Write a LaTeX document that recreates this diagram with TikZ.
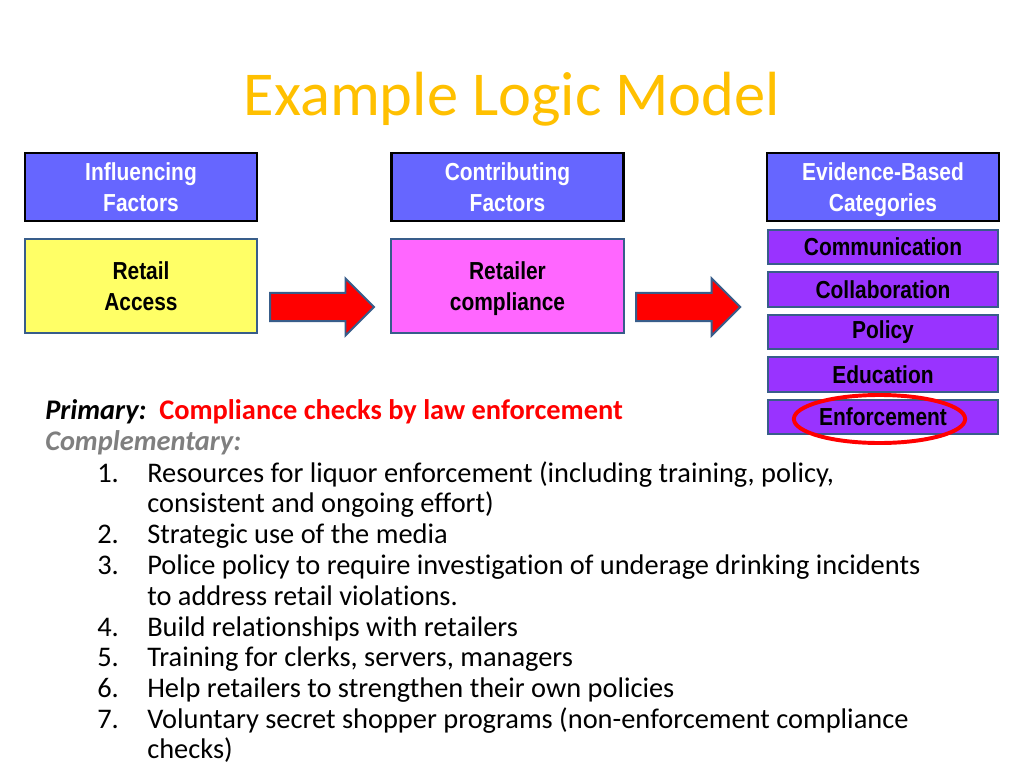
\documentclass[tikz,border=0pt]{standalone}
\usepackage{fontspec}
\setmainfont[Ligatures=NoCommon]{Carlito}
\newfontfamily\boxfont[FakeStretch=0.85]{Liberation Sans}
\usetikzlibrary{calc,shapes.geometric,shapes.arrows}

\definecolor{headblue}{HTML}{6666FF}
\definecolor{accessyellow}{HTML}{FFFF66}
\definecolor{compliancepink}{HTML}{FF66FF}
\definecolor{catpurple}{HTML}{9933FF}
\definecolor{edgeblue}{HTML}{385D8A}
\definecolor{titlegold}{HTML}{FFC000}
\definecolor{notegray}{HTML}{7F7F7F}

\tikzset{
	header/.style={draw=black, line width=1.9pt, fill=headblue, text=white, minimum width=5.8cm, minimum height=1.7cm, align=center, font=\boxfont\bfseries\fontsize{17.5}{22}\selectfont},
	factor/.style={draw=edgeblue, line width=1.4pt, minimum width=5.8cm, minimum height=2.35cm, align=center, font=\boxfont\bfseries\fontsize{17.5}{22}\selectfont},
	category/.style={draw=edgeblue, line width=1.4pt, fill=catpurple, minimum width=5.75cm, minimum height=0.86cm, font=\boxfont\bfseries\fontsize{17.5}{21}\selectfont},
	bigarrow/.style={single arrow, draw=edgeblue, line width=1.4pt, fill=red, inner sep=0.33cm, minimum height=2.6cm, single arrow head extend=0.36cm, anchor=tip},
	item/.style={anchor=base west, inner sep=0pt, font=\fontsize{20.2}{22}\selectfont}
}

\begin{document}
\begin{tikzpicture}[x=0.025cm, y=-0.025cm]
	\fill[white] (0,0) rectangle (1024,768);
	\useasboundingbox (0,0) rectangle (1024,768);

	\node[anchor=base, inner sep=0pt, text=titlegold, font=\fontsize{44.4}{48}\selectfont] (title) at (512,116) {Example Logic Model};

	% three columns
	\node[header] (influencing) at (141,187) {Influencing\\Factors};
	\node[header] (contributing) at (507.5,187) {Contributing\\Factors};
	\node[header] (evidence) at (883,187) {Evidence-Based\\\smash{Categories}};

	\node[factor, fill=accessyellow] (access) at (141,286) {Retail\\Access};
	\node[factor, fill=compliancepink] (compliance) at (507.5,286) {Retailer\\\smash{compliance}};

	\foreach \cat [count=\i] in {Communication, Collaboration, Policy, Education, Enforcement}
		\node[category] (cat\i) at (883,204.5+42.5*\i) {\cat};

	\node[bigarrow] (arrow1) at ($(compliance.west)+(-15,21)$) {};
	\node[bigarrow] (arrow2) at ($(evidence.west |- compliance.west)+(-24,21)$) {};

	\node[ellipse, draw=red, line width=2.8pt, minimum width=4.28cm, minimum height=1.2cm] (circled) at ($(cat5.center)+(-3.5,2)$) {};

	% strategies
	\node[item] (primary) at (45,419) {\textbf{\textit{Primary:}}\hspace{0.45em}\textcolor{red}{\textbf{Compliance checks by law enforcement}}};
	\node[item, text=notegray] (complementary) at (45,450) {\textbf{\textit{Complementary:}}};

	\foreach \n/\y in {1/482, 2/543, 3/574, 4/636, 5/666, 6/697, 7/728}
		\node[item] (num\n) at (97,\y) {\n.};
	\foreach \y/\txt in {482/{Resources for liquor enforcement (including training, policy,},
			512/{consistent and ongoing effort)},
			543/{Strategic use of the media},
			574/{Police policy to require investigation of underage drinking incidents},
			605/{to address retail violations.},
			636/{Build relationships with retailers},
			666/{Training for clerks, servers, managers},
			697/{Help retailers to strengthen their own policies},
			728/{Voluntary secret shopper programs (non-enforcement compliance},
			758/{checks)}}
		\node[item] (line\y) at (147,\y) {\txt};
\end{tikzpicture}
\end{document}
